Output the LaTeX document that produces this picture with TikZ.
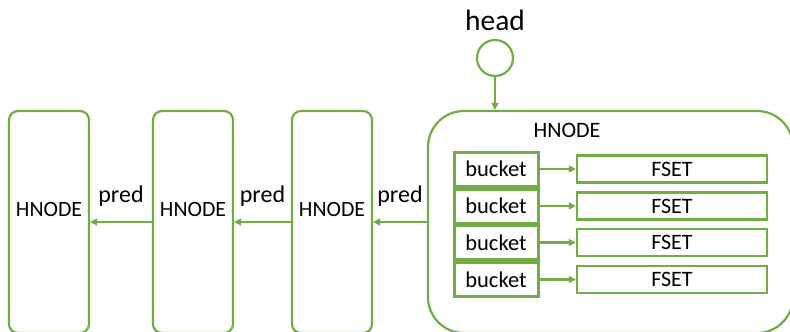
\documentclass[tikz,border=0pt]{standalone}
\usepackage{fontspec}
\setmainfont{Carlito}
\usetikzlibrary{positioning,arrows.meta}
\definecolor{hgreen}{RGB}{112,173,71}

\begin{document}
\begin{tikzpicture}[x=1pt,y=-1pt,->,>={Triangle[length=7pt,width=7pt]},shorten >=0pt,
    thick,draw=hgreen,line width=2.2pt,
    hnode/.style={rectangle,rounded corners=9pt,draw=hgreen,line width=2.2pt,minimum width=80pt,minimum height=222pt,text height=14pt,text depth=26pt,font=\fontsize{21.8}{25}\selectfont},
    bucket node/.style={rectangle,draw=hgreen,line width=3pt,minimum width=84pt,minimum height=34pt,inner sep=0pt,font=\fontsize{22.5}{26}\selectfont},
    fset node/.style={rectangle,draw=hgreen,line width=2.5pt,minimum width=190pt,minimum height=27pt,inner sep=0pt,font=\fontsize{22}{25}\selectfont},
    pred label/.style={above=13pt,inner sep=2pt,text=black,font=\fontsize{24}{28}\selectfont}]
\useasboundingbox (0,0) rectangle (790,332);
\clip (0,0) rectangle (790,332);

\node[hnode]   (h1)   at (49,222)   {HNODE};
\node[hnode]   (h2)   at (193,222)  {HNODE};
\node[hnode]   (h3)   at (332,222)  {HNODE};
\node[hnode,rounded corners=36pt,minimum width=365pt] (big) at (610.5,222) {};
\node[font=\fontsize{22}{26}\selectfont] (bigl) at (567,130) {HNODE};

\node[circle,draw=hgreen,line width=2.2pt,minimum size=36pt] (head) at (495,58) {};
\node[font=\fontsize{29.5}{34}\selectfont] (headl) [above=4pt of head] {head};

\foreach \i/\y in {1/169,2/206,3/242.5,4/279.5}{
  \node[bucket node] (b\i) at (496,\y) {bucket};
  \node[fset node]   (f\i) at (672,\y) {FSET};
  \draw[hgreen] (b\i) -- (f\i);
}

\path[every edge/.style={draw=hgreen,line width=2.2pt}]
(head) edge (big.north -| head)
(big.west) edge node[pred label]{pred} (h3.east)
(h3.west) edge node[pred label]{pred} (h2.east)
(h2.west) edge node[pred label]{pred} (h1.east);
\end{tikzpicture}
\end{document}
